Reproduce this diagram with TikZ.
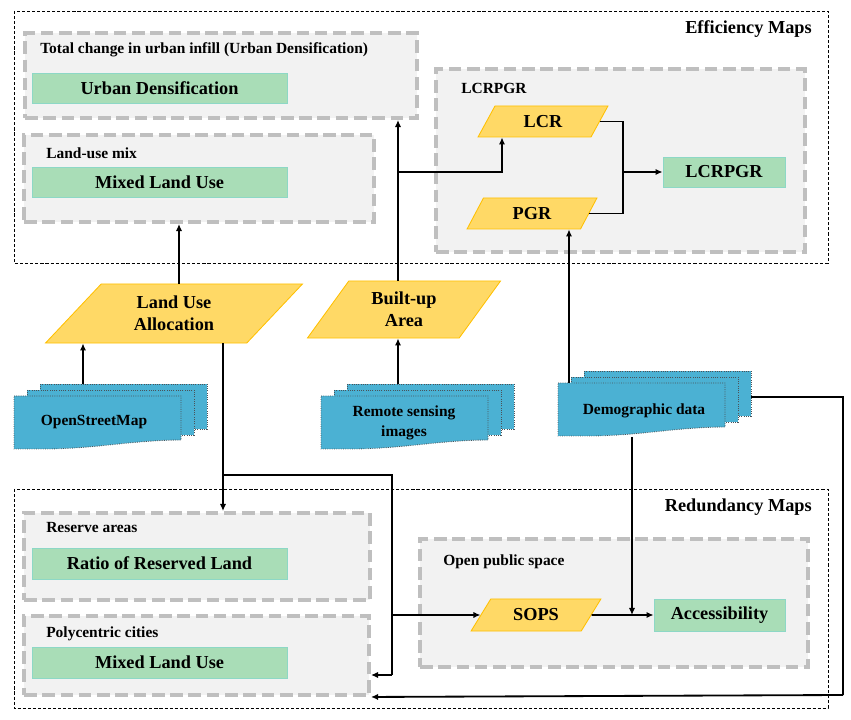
\documentclass[tikz,border=0pt]{standalone}
\usepackage{fontspec}
\setmainfont{Liberation Serif}
\usetikzlibrary{arrows.meta,shapes.geometric}
\definecolor{framegray}{HTML}{BFBFBF}
\definecolor{panel}{HTML}{F2F2F2}
\definecolor{mint}{HTML}{A9DDB7}
\definecolor{mintline}{HTML}{8DD8C6}
\definecolor{sun}{HTML}{FFD966}
\definecolor{sunline}{HTML}{FFC000}
\definecolor{sky}{HTML}{4BB1D3}
\definecolor{skyline}{HTML}{4A5258}
\tikzset{
  frame/.style={draw=black, line width=0.7pt, dash pattern=on 2.2pt off 1.4pt},
  group/.style={draw=framegray, fill=panel, line width=2.8pt, dash pattern=on 9pt off 4pt},
  gbox/.style={draw=mintline, fill=mint, line width=0.6pt, font=\bfseries\fontsize{13}{15.6}\selectfont},
  pgram/.style={trapezium, trapezium stretches=true, draw=sunline, fill=sun, line width=0.6pt,
    align=center, inner sep=0pt, font=\bfseries\fontsize{13}{15.6}\selectfont},
  sheet/.style={draw=skyline, fill=sky, line width=0.6pt, densely dotted},
  line/.style={draw=black, line width=1.3pt},
  arr/.style={line, -{Latex[length=5pt,width=4.5pt]}},
  ttl/.style={font=\bfseries\fontsize{13}{15.6}\selectfont, anchor=east, inner sep=0pt},
  lbl/.style={font=\bfseries\fontsize{11}{13}\selectfont, anchor=west, inner sep=0pt},
  slbl/.style={font=\bfseries\fontsize{11}{14.2}\selectfont, align=center}
}
% stacked documents, #1,#2 = top left corner of the front sheet
\newcommand{\docstack}[2]{%
  \draw[sheet] ({#1+26},{#2-12}) rectangle ({#1+193},{#2+33});
  \draw[sheet] ({#1+13},{#2-6}) rectangle ({#1+180},{#2+39});
  \draw[sheet] (#1,#2) -- ({#1+167},#2) -- ({#1+167},{#2+44})
    .. controls ({#1+120},{#2+44}) and ({#1+80},{#2+53}) .. ({#1+30},{#2+53})
    -- (#1,{#2+53}) -- cycle;
}

\begin{document}
\begin{tikzpicture}[x=0.025cm, y=-0.025cm]
  \useasboundingbox (0,0) rectangle (851,720);

  % outer frames
  \draw[frame] (14,11) rectangle (828,263);
  \draw[frame] (14,489) rectangle (828,708);
  \node[ttl] (eff) at (812,29) {Efficiency Maps};
  \node[ttl] (red) at (812,507) {Redundancy Maps};

  % groups
  \node[group, minimum width=9.8cm, minimum height=2.125cm] (gUD) at (221,75.5) {};
  \node[group, minimum width=8.75cm, minimum height=2.175cm] (gMix) at (199,178.5) {};
  \node[group, minimum width=9.225cm, minimum height=4.575cm] (gLCR) at (620.5,160.5) {};
  \node[group, minimum width=8.65cm, minimum height=2.175cm] (gRes) at (197,556.5) {};
  \node[group, minimum width=8.625cm, minimum height=1.975cm] (gPoly) at (196.5,655.5) {};
  \node[group, minimum width=9.7cm, minimum height=3.2cm] (gOps) at (614,603) {};

  \node[lbl] at (40,50) {Total change in urban infill (Urban Densification)};
  \node[lbl] at (46,153) {Land-use mix};
  \node[lbl] at (461,88) {LCRPGR};
  \node[lbl] at (46,528) {Reserve areas};
  \node[lbl] at (46,634) {Polycentric cities};
  \node[lbl] at (443,562) {Open public space};

  % indicators
  \node[gbox, minimum width=6.375cm, minimum height=0.75cm] (ud) at (159.5,88) {Urban Densification};
  \node[gbox, minimum width=6.375cm, minimum height=0.75cm] (mix) at (159.5,182) {Mixed Land Use};
  \node[gbox, minimum width=3.05cm, minimum height=0.75cm] (lcrpgr) at (724,172) {LCRPGR};
  \node[gbox, minimum width=6.375cm, minimum height=0.775cm] (rrl) at (159.5,563.5) {Ratio of Reserved Land};
  \node[gbox, minimum width=6.375cm, minimum height=0.775cm] (mixb) at (159.5,662.5) {Mixed Land Use};
  \node[gbox, minimum width=3.275cm, minimum height=0.8cm] (acc) at (719.5,615) {Accessibility};

  % intermediate layers
  \node[pgram, trapezium left angle=48.6, trapezium right angle=131.4,
    minimum width=6.45cm, minimum height=1.475cm] (lua) at (174,313.5) {Land Use\\Allocation};
  \node[pgram, trapezium left angle=55, trapezium right angle=125,
    minimum width=4.85cm, minimum height=1.425cm] (bua) at (404,309.5) {Built-up\\Area};
  \node[pgram, trapezium left angle=61, trapezium right angle=119,
    minimum width=3.25cm, minimum height=0.775cm] (lcr) at (543,121.5) {LCR};
  \node[pgram, trapezium left angle=62, trapezium right angle=118,
    minimum width=3.25cm, minimum height=0.775cm] (pgr) at (532,213.5) {PGR};
  \node[pgram, trapezium left angle=51, trapezium right angle=129,
    minimum width=3.25cm, minimum height=0.8cm] (sops) at (536,615) {SOPS};

  % data sources
  \docstack{14}{396}
  \docstack{321}{396}
  \docstack{558}{383}
  \node[slbl] (osm) at (94,422) {OpenStreetMap};
  \node[slbl] (rsi) at (404,423) {Remote sensing\\images};
  \node[slbl] (demo) at (644,411) {Demographic data};

  \coordinate (osmtop) at (83,384);
  \coordinate (rsitop) at (398,384);
  \coordinate (demotop) at (569,383);
  \coordinate (demobot) at (632,437);
  \coordinate (demoright) at (751,397);
  \coordinate (c1) at (179,0);
  \coordinate (j1) at (398,172);
  \coordinate (j2) at (502,0);
  \coordinate (m) at (623,172);
  \coordinate (ja) at (223,475);
  \coordinate (jb) at (392,475);
  \coordinate (jc) at (392,615);
  \coordinate (jd) at (392,675);
  \coordinate (je) at (632,615);
  \coordinate (jf) at (843,397);
  \coordinate (jg) at (843,695);

  % connectors
  \draw[arr] (osmtop) -- (lua.south -| osmtop);
  \draw[arr] (rsitop) -- (bua.south -| rsitop);
  \draw[arr] (lua.north -| c1) -- (gMix.south -| c1);
  \draw[arr] (bua.north -| j1) -- (gUD.south -| j1);
  \draw[arr] (j1) -| (lcr.south -| j2);
  \draw[line] (lcr.east) -| (m);
  \draw[line] (pgr.east) -| (m);
  \draw[arr] (m) -- (lcrpgr.west);
  \draw[arr] (demotop) -- (pgr.south -| demotop);

  \draw[line] (lua.south -| ja) -- (ja);
  \draw[arr] (ja) -- (gRes.north -| ja);
  \draw[line] (ja) -- (jb) -- (jd);
  \draw[arr] (jd) -- (gPoly.east |- jd);
  \draw[arr] (jc) -- (sops.west);
  \draw[arr] (sops.east) -- (acc.west);
  \draw[arr] (demobot) -- (je);
  \draw[line] (demoright) -- (jf) -- (jg);
  \draw[arr] (jg) -- (gPoly.south east);
\end{tikzpicture}
\end{document}
